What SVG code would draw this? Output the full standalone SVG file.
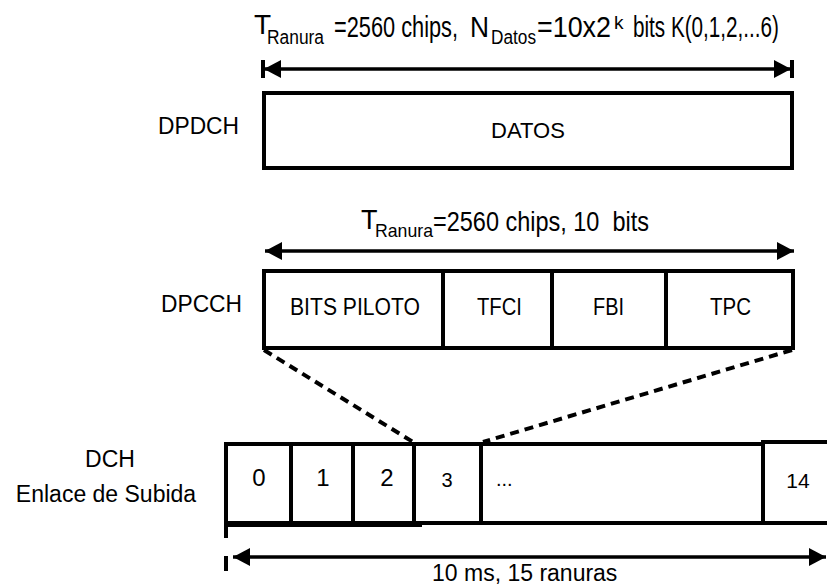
<svg xmlns="http://www.w3.org/2000/svg" width="827" height="588" viewBox="0 0 827 588">
<style>
text{font-family:"Liberation Sans",Arial,sans-serif;fill:#000}
.box{fill:#fff;stroke:#000;stroke-width:4}
.ln{stroke:#000;stroke-width:4;fill:none}
.arr{stroke:#000;stroke-width:3.5;fill:none}
.dash{stroke:#000;stroke-width:4;fill:none;stroke-dasharray:9 6}
.mid{text-anchor:middle}
</style>
<defs>
<marker id="ah" markerUnits="userSpaceOnUse" markerWidth="18" markerHeight="20" refX="17" refY="9" orient="auto-start-reverse" viewBox="0 0 18 18">
<path d="M0,0 L17,9 L0,18 Z" fill="#000"/>
</marker>
</defs>
<rect width="827" height="588" fill="#fff"/>

<g id="title-dpdch">
<text x="254" y="34" font-size="28">T</text>
<text x="267" y="44" font-size="20" textLength="57" lengthAdjust="spacingAndGlyphs">Ranura</text>
<text x="334" y="37" font-size="29" textLength="124" lengthAdjust="spacingAndGlyphs">=2560 chips,</text>
<text x="470" y="37" font-size="29" textLength="19" lengthAdjust="spacingAndGlyphs">N</text>
<text x="491" y="44" font-size="20" textLength="45" lengthAdjust="spacingAndGlyphs">Datos</text>
<text x="537" y="37" font-size="29" textLength="74" lengthAdjust="spacingAndGlyphs">=10x2</text>
<text x="614" y="29" font-size="19">k</text>
<text x="633" y="37" font-size="29" textLength="146" lengthAdjust="spacingAndGlyphs">bits K(0,1,2,...6)</text>
</g>

<g id="title-dpcch">
<text x="361" y="229" font-size="27">T</text>
<text x="375" y="237" font-size="19" textLength="58" lengthAdjust="spacingAndGlyphs">Ranura</text>
<text x="433" y="231" font-size="28" textLength="216" lengthAdjust="spacingAndGlyphs" xml:space="preserve">=2560 chips, 10  bits</text>
</g>

<g id="dpdch">
<text x="158" y="134" font-size="24" textLength="81" lengthAdjust="spacingAndGlyphs">DPDCH</text>
<rect class="box" x="264" y="93" width="528" height="75"/>
<text class="mid" x="528" y="138" font-size="22">DATOS</text>
</g>

<g id="dpcch">
<text x="161" y="312" font-size="24" textLength="81" lengthAdjust="spacingAndGlyphs">DPCCH</text>
<rect class="box" x="264" y="271" width="529" height="77"/>
<line class="ln" x1="443" y1="271" x2="443" y2="348"/>
<line class="ln" x1="552" y1="271" x2="552" y2="348"/>
<line class="ln" x1="666" y1="271" x2="666" y2="348"/>
<text x="290" y="315" font-size="23" textLength="130" lengthAdjust="spacingAndGlyphs">BITS PILOTO</text>
<text x="477" y="315" font-size="23" textLength="45" lengthAdjust="spacingAndGlyphs">TFCI</text>
<text x="593" y="315" font-size="23" textLength="31" lengthAdjust="spacingAndGlyphs">FBI</text>
<text x="710" y="315" font-size="23" textLength="41" lengthAdjust="spacingAndGlyphs">TPC</text>
</g>

<g id="dch">
<text class="mid" x="110" y="467" font-size="23">DCH</text>
<text class="mid" x="106" y="502" font-size="23">Enlace de Subida</text>
<path class="ln" d="M763 444 H226 V538"/>
<line class="ln" x1="763" y1="442" x2="829" y2="442"/>
<line class="ln" x1="226" y1="523" x2="829" y2="523"/>
<line class="ln" x1="226" y1="525" x2="422" y2="525"/>
<line class="ln" x1="291" y1="444" x2="291" y2="523"/>
<line class="ln" x1="353" y1="444" x2="353" y2="523"/>
<line class="ln" x1="414" y1="442" x2="414" y2="523"/>
<line class="ln" x1="481" y1="442" x2="481" y2="523"/>
<line class="ln" x1="763" y1="440" x2="763" y2="523"/>
<text class="mid" x="259" y="486" font-size="24">0</text>
<text class="mid" x="323" y="486" font-size="24">1</text>
<text class="mid" x="387" y="486" font-size="24">2</text>
<text class="mid" x="447" y="487" font-size="20">3</text>
<text x="496" y="486" font-size="20">...</text>
<text class="mid" x="798" y="488" font-size="21">14</text>
<line class="ln" x1="226" y1="556" x2="226" y2="571"/>
</g>

<g id="connectors">
<line class="ln" x1="263" y1="60" x2="263" y2="78"/>
<line class="ln" x1="792" y1="60" x2="792" y2="78"/>
<line class="arr" x1="264" y1="69" x2="791" y2="69" marker-start="url(#ah)" marker-end="url(#ah)"/>
<line class="arr" x1="265" y1="251" x2="794" y2="251" marker-start="url(#ah)" marker-end="url(#ah)"/>
<line class="arr" x1="233" y1="557" x2="826" y2="557" marker-start="url(#ah)" marker-end="url(#ah)"/>
<line class="dash" x1="264" y1="350" x2="413" y2="442"/>
<line class="dash" x1="792" y1="350" x2="483" y2="442"/>
</g>

<text x="432" y="581" font-size="23">10 ms, 15 ranuras</text>
</svg>
